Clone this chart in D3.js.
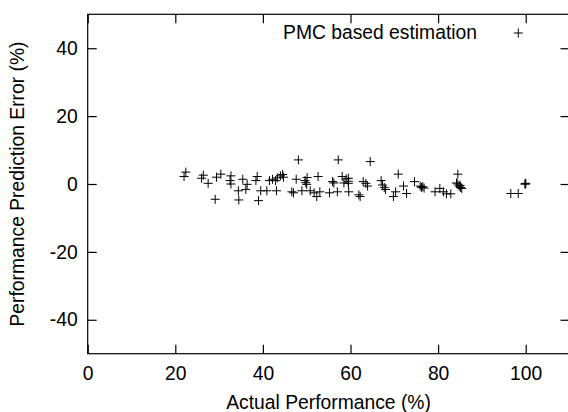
<!DOCTYPE html>
<html><head><meta charset="utf-8">
<script src="https://cdn.jsdelivr.net/npm/d3@7"></script>
<style>body{margin:0;background:#fff}svg{display:block}text{font-family:"Liberation Sans",Arial,sans-serif;fill:#000}</style>
</head><body><svg id="c" width="568" height="412"></svg>
<script>
const actual = [22.4,22.0,26.4,26.0,27.5,29.1,29.4,30.4,32.7,32.5,32.7,34.4,34.5,35.4,36.4,36.1,38.7,38.4,39.0,39.5,40.9,41.5,42.2,42.9,43.3,44.0,44.5,43.1,44.7,46.6,47.0,47.6,48.1,48.9,49.6,49.8,50.0,50.1,50.8,51.7,52.3,52.6,53.0,55.2,55.9,56.2,57.2,57.0,58.1,58.5,59.0,59.5,59.5,59.5,59.6,61.9,62.2,64.5,62.9,63.5,63.9,67.0,67.3,67.7,68.0,69.8,70.3,70.9,72.1,72.8,74.6,75.9,76.2,76.5,76.8,79.3,80.4,81.2,81.9,82.9,84.5,84.2,84.5,84.8,85.1,85.4,85.0,96.6,98.3,100,100,99.8];
const predError = [3.5,2.2,2.6,1.7,0.2,-4.5,2.0,2.9,2.4,1.0,0.0,-2.0,-4.7,1.4,-0.1,-1.6,2.2,1.0,-4.9,-2.0,-2.0,1.0,1.4,1.0,1.8,2.4,2.8,-2.0,2.0,-2.3,-2.6,1.4,7.1,-2.0,1.0,0.4,-0.1,1.9,-2.0,-2.6,-3.7,2.2,-2.3,-2.6,0.7,0.3,7.1,-2.3,2.2,0.3,1.5,0.8,1.7,0.2,-2.3,-3.2,-3.7,6.6,0.7,0.2,-0.6,1.0,-0.3,-1.0,-1.6,-3.7,-2.3,2.9,-0.6,-2.8,0.7,-0.6,-1.0,-0.8,-1.2,-2.3,-1.3,-2.3,-2.9,-2.9,2.9,0.3,0.0,-0.6,-1.0,-1.3,-0.4,-2.8,-2.8,0,0.2,0];
const xTicks = [0,20,40,60,80,100];
const yTicks = [-40,-20,0,20,40];
const seriesName = "PMC based estimation";
const xTitle = "Actual Performance (%)";
const yTitle = "Performance Prediction Error (%)";

const L=87.7, R=569.5, T=14.3, B=353.7;
const x = d3.scaleLinear().domain([0,110]).range([L,R]);
const y = d3.scaleLinear().domain([-50,50]).range([B,T]);
const svg = d3.select("#c");
const fs = 19.3;
const tick = 9;
const fmt = d => String(d);

function styleAxis(g){
  g.select(".domain").remove();
  g.selectAll(".tick line").attr("stroke","#000").attr("stroke-width",1.2);
  g.selectAll("text").attr("font-size",fs).attr("font-family","'Liberation Sans',Arial,sans-serif");
}
// bottom
svg.append("g").attr("transform",`translate(0,${B})`)
  .call(d3.axisBottom(x).tickValues(xTicks).tickFormat(fmt).tickSizeInner(-tick).tickSizeOuter(0).tickPadding(13))
  .call(styleAxis);
// top
svg.append("g").attr("transform",`translate(0,${T})`)
  .call(d3.axisTop(x).tickValues(xTicks).tickSizeInner(-tick).tickSizeOuter(0).tickFormat(""))
  .call(styleAxis);
// left
svg.append("g").attr("transform",`translate(${L},0)`)
  .call(d3.axisLeft(y).tickValues(yTicks).tickFormat(fmt).tickSizeInner(-tick).tickSizeOuter(0).tickPadding(10))
  .call(styleAxis);
// right
svg.append("g").attr("transform",`translate(${R},0)`)
  .call(d3.axisRight(y).tickValues(yTicks).tickSizeInner(-tick).tickSizeOuter(0).tickFormat(""))
  .call(styleAxis);

// frame
svg.append("rect").attr("x",L).attr("y",T).attr("width",R-L).attr("height",B-T)
  .attr("fill","none").attr("stroke","#000").attr("stroke-width",1.2);

// points
const s = 4.5;
const pts = svg.append("g").attr("stroke","#000").attr("stroke-width",1).attr("fill","none");
actual.forEach((a,i)=>{
  const px = x(a), py = y(predError[i]);
  pts.append("path").attr("d",`M${px-s},${py}H${px+s}M${px},${py-s}V${py+s}`);
});

// legend
svg.append("text").attr("x",477).attr("y",39).attr("text-anchor","end").attr("font-size",fs).text(seriesName);
const lx=518.3, ly=33;
svg.append("path").attr("d",`M${lx-s},${ly}H${lx+s}M${lx},${ly-s}V${ly+s}`).attr("stroke","#000").attr("stroke-width",1);

// titles
svg.append("text").attr("x",(L+R)/2).attr("y",408.5).attr("text-anchor","middle").attr("font-size",fs).text(xTitle);
svg.append("text").attr("transform",`translate(24,${(T+B)/2}) rotate(-90)`).attr("text-anchor","middle").attr("font-size",fs).text(yTitle);
</script></body></html>
